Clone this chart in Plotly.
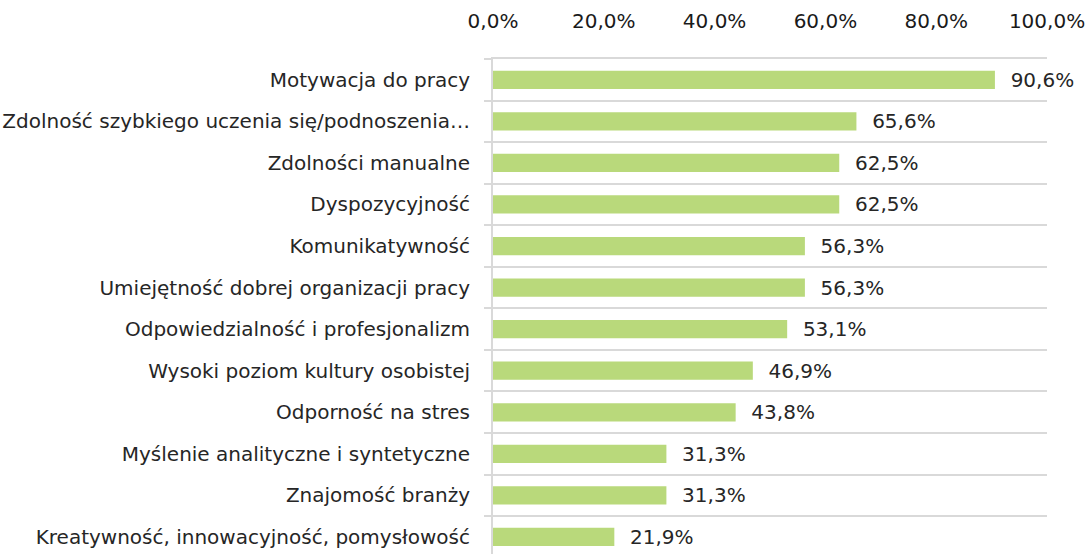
import plotly.graph_objects as go

categories = [
    "Motywacja do pracy",
    "Zdolność szybkiego uczenia się/podnoszenia…",
    "Zdolności manualne",
    "Dyspozycyjność",
    "Komunikatywność",
    "Umiejętność dobrej organizacji pracy",
    "Odpowiedzialność i profesjonalizm",
    "Wysoki poziom kultury osobistej",
    "Odporność na stres",
    "Myślenie analityczne i syntetyczne",
    "Znajomość branży",
    "Kreatywność, innowacyjność, pomysłowość",
]
values = [0.906, 0.656, 0.625, 0.625, 0.563, 0.563, 0.531, 0.469, 0.438, 0.313, 0.313, 0.219]
x_ticks = [0, 0.2, 0.4, 0.6, 0.8, 1.0]

FONT = "DejaVu Sans"
GRID = "#d9d9d9"
TEXT = "#262626"

fig = go.Figure(
    go.Bar(
        x=values,
        y=categories,
        orientation="h",
        marker=dict(color="#b9d97b", line=dict(width=0)),
        width=0.44,
        text=values,
        texttemplate="  %{x:.1%}",
        textposition="outside",
        constraintext="none",
        cliponaxis=False,
        textfont=dict(family=FONT, size=20, color=TEXT),
        hoverinfo="skip",
    )
)

fig.update_layout(
    width=1089,
    height=554,
    margin=dict(l=493, r=42, t=59, b=0, autoexpand=False),
    paper_bgcolor="white",
    plot_bgcolor="white",
    separators=", ",
    showlegend=False,
    font=dict(family=FONT, size=20, color=TEXT),
    xaxis=dict(
        side="top",
        range=[0, 1],
        tickvals=x_ticks,
        tickformat=".1%",
        showgrid=False,
        zeroline=False,
        showline=True,
        linecolor=GRID,
        linewidth=2,
        ticks="",
        ticklabelstandoff=21,
        tickfont=dict(family=FONT, size=20, color="#1a1a1a"),
        automargin=False,
    ),
    yaxis=dict(
        type="category",
        categoryorder="array",
        categoryarray=categories,
        range=[11.41, -0.5],
        tickson="boundaries",
        ticks="outside",
        ticklen=7,
        tickwidth=2,
        tickcolor=GRID,
        showgrid=True,
        gridcolor=GRID,
        gridwidth=2,
        showline=True,
        linecolor=GRID,
        linewidth=2,
        zeroline=False,
        ticklabelstandoff=17,
        tickfont=dict(family=FONT, size=20, color=TEXT),
        automargin=False,
    ),
)

fig.write_html(
    "out.html",
    config={"displayModeBar": False},
    post_script="document.body.style.margin='0';document.body.style.overflow='hidden';",
)
